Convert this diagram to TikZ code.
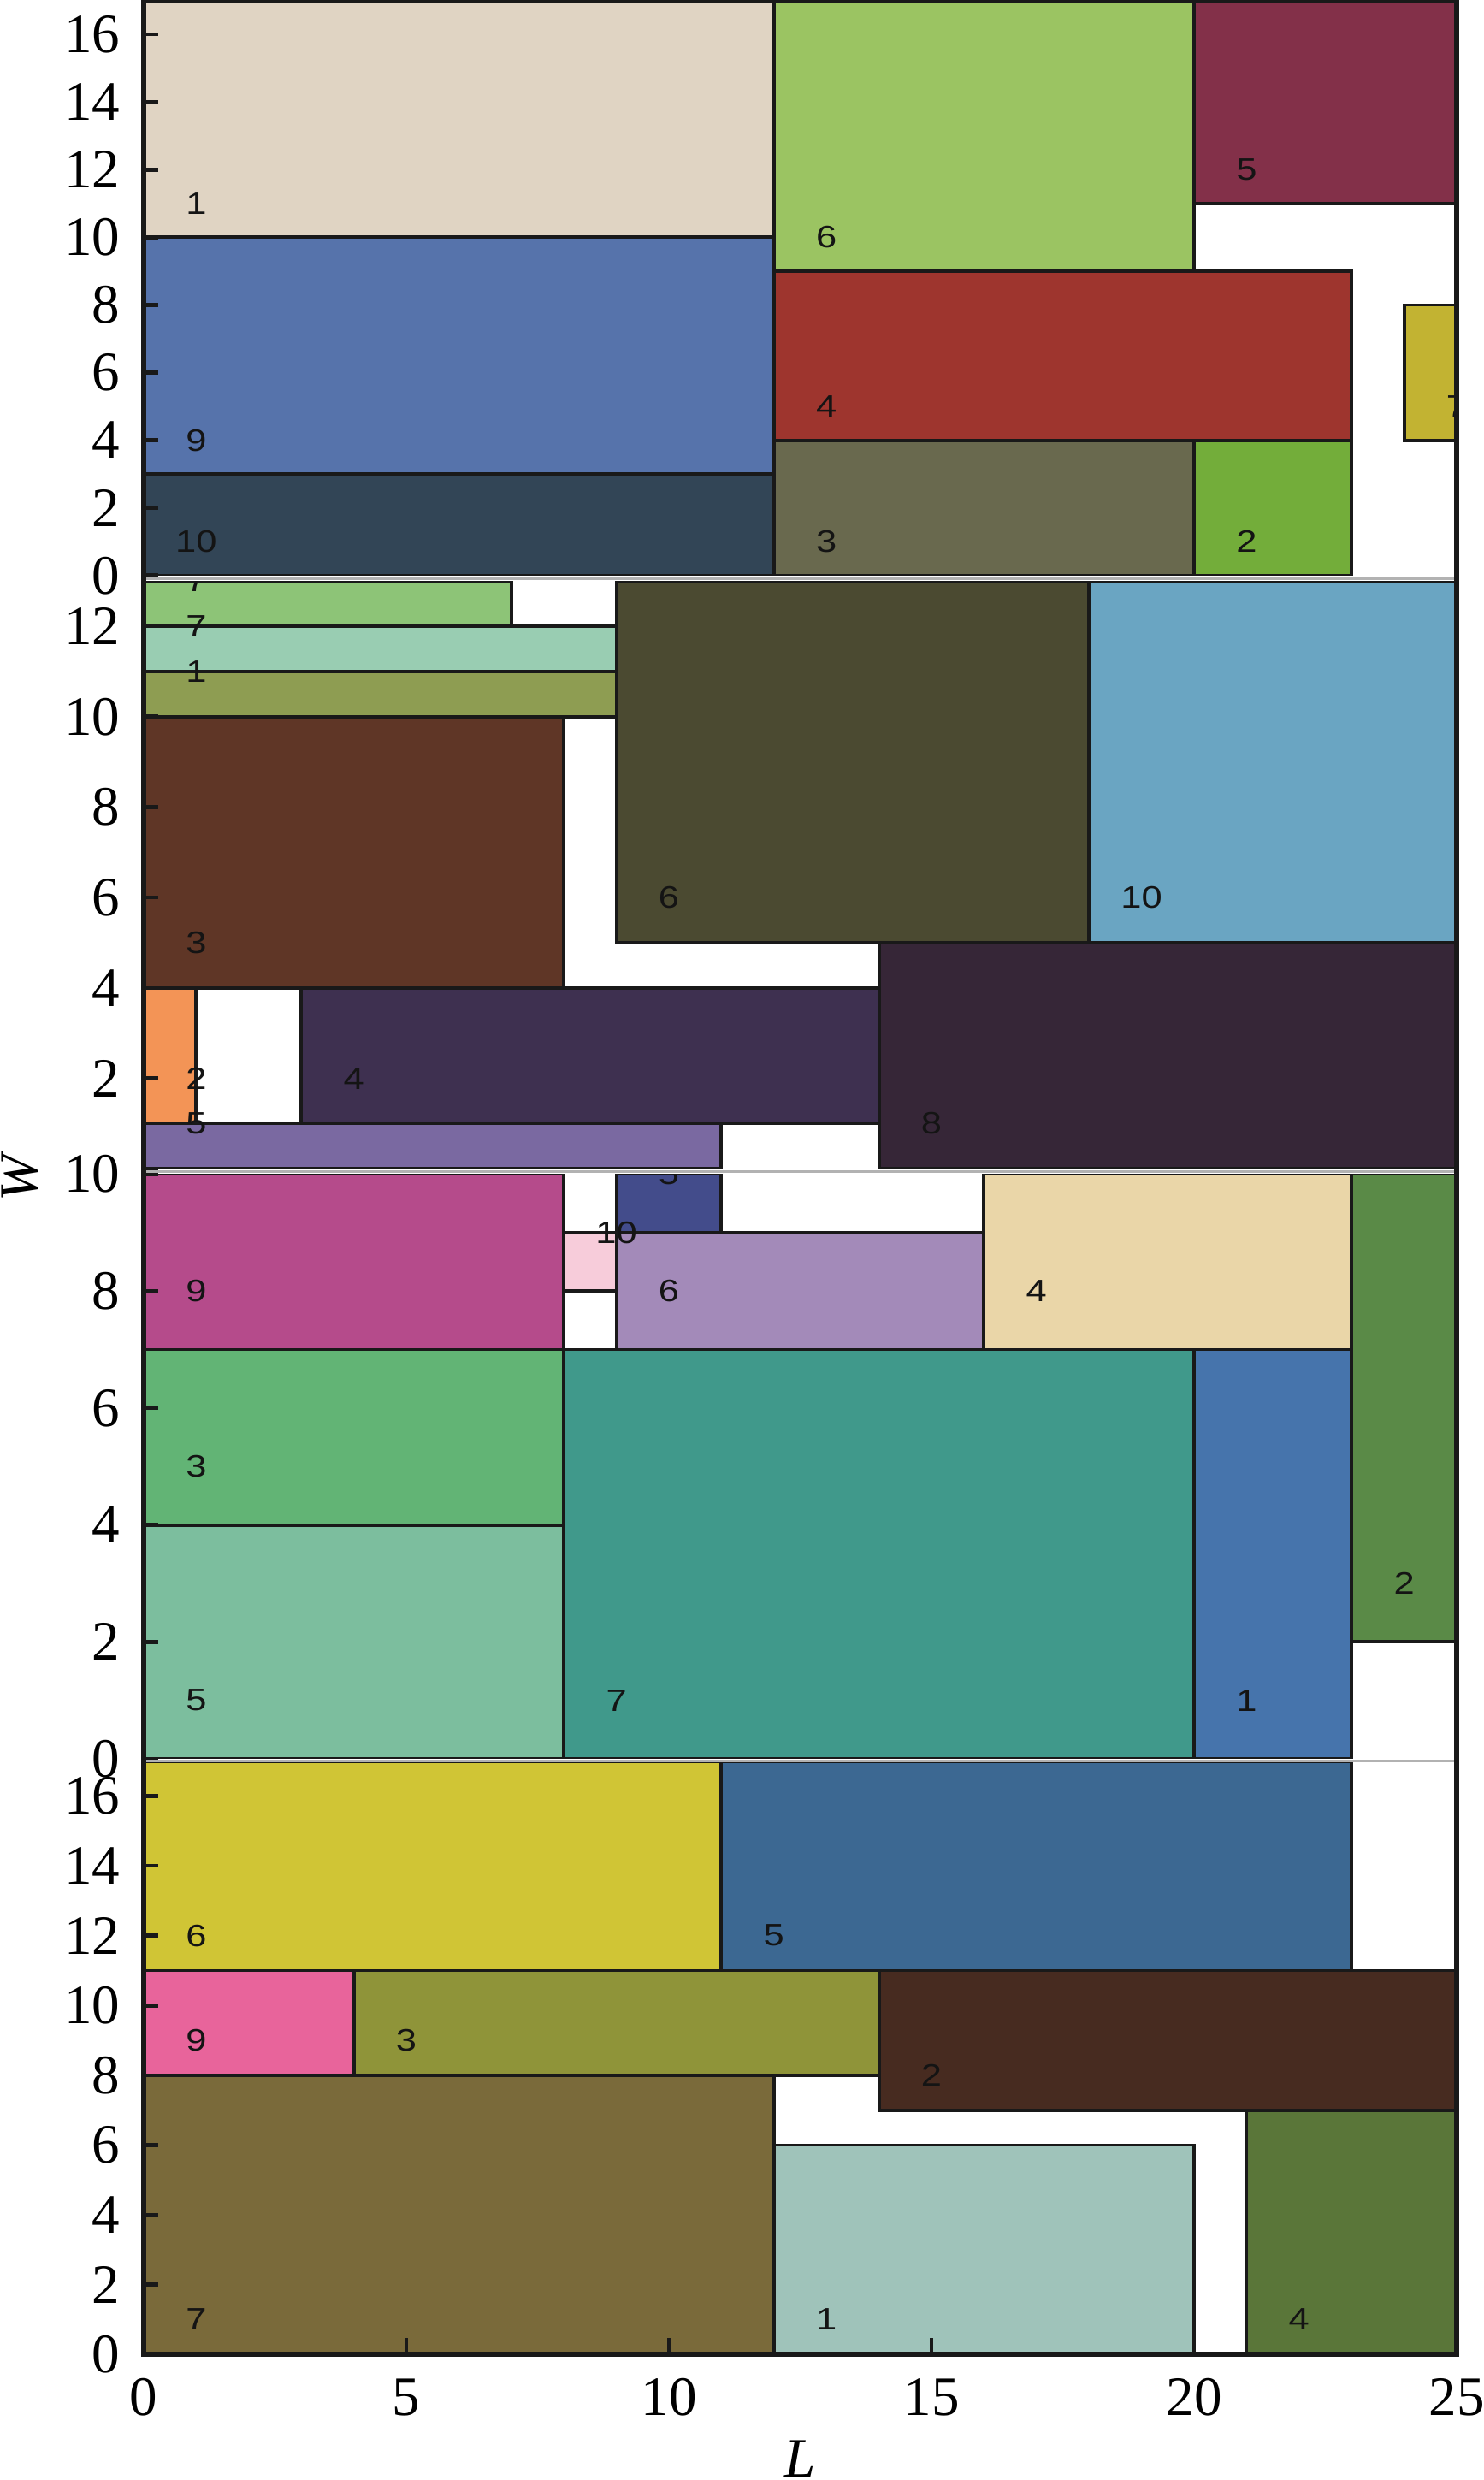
\documentclass[tikz,border=0pt]{standalone}
\usepackage{fontspec}
\setmainfont{Liberation Serif}
\newfontfamily\itemfont{Liberation Sans}
\usetikzlibrary{positioning}

% boxes first, then their numbers on top
\newcommand{\drawitems}[2]{%
  \foreach \xa/\ya/\xb/\yb/\hex/\txt in {#2}{
    \edef\setfill{\noexpand\definecolor{itemfill}{HTML}{\hex}}\setfill
    \draw[item, fill=itemfill] (\xa,\ya) rectangle (\xb,\yb);
  }
  \foreach \xa/\ya/\xb/\yb/\hex/\txt [count=\n] in {#2}
    \node[itemlabel] (#1-\n) at (\xa+1,\ya+1) {\txt};
}

\begin{document}
\begin{tikzpicture}[
  item/.style={draw=black!90, line width=1.1pt},
  itemlabel/.style={font=\itemfont\fontsize{10.3}{11}\selectfont, text=black!92, inner sep=0pt, xscale=1.2},
  ticklabel/.style={font=\fontsize{18.5}{20}\selectfont, inner sep=0pt},
  axislabel/.style={font=\itshape\fontsize{18.5}{20}\selectfont, inner sep=0pt},
  tick/.style={line width=1.3pt, black!90},
  seam/.style={line width=1.1pt, black!30},
  frame/.style={line width=1.7pt, black!90}
]
\useasboundingbox (0,0) rectangle (17.34,28.99);

% top pattern, W = 17
\begin{scope}[shift={(1.68cm,22.262cm)}, x=0.614cm, y=0.3954cm]
  \begin{scope}
    \clip (0,0) rectangle (25,17);
    \drawitems{pa}{0/10/12/17/E0D4C3/1, 0/3/12/10/5673AB/9, 0/0/12/3/324556/10,
      12/9/20/17/9BC462/6, 20/11/25/17/833049/5, 12/4/23/9/9E352E/4,
      12/0/20/4/69694E/3, 20/0/23/4/73AD3A/2, 24/4/26/8/C2B332/7}
  \end{scope}
  \foreach \t in {0,2,...,16}{
    \draw[tick] (0,\t) -- ++(0.17cm,0);
    \node[ticklabel, anchor=east, xshift=-0.27cm] (pa-y\t) at (0,\t) {\t};
  }
\end{scope}

% second pattern, W = 13
\begin{scope}[shift={(1.68cm,15.327cm)}, x=0.614cm, y=0.5285cm]
  \begin{scope}
    \clip (0,0) rectangle (25,13);
    \drawitems{pb}{0/12/7/13/8DC477/7, 0/11/9/12/99CDB2/7, 0/10/9/11/8E9D52/1,
      0/4/8/10/5F3626/3, 9/5/18/13/4B4A31/6, 18/5/25/13/6AA5C2/10,
      0/1/1/4/F39456/2, 3/1/14/4/3E3050/4, 0/0/11/1/7A69A1/5,
      14/0/25/5/362637/8}
  \end{scope}
  \foreach \t in {0,2,...,12}
    \draw[tick] (0,\t) -- ++(0.17cm,0);
  \foreach \t in {2,4,...,12}
    \node[ticklabel, anchor=east, xshift=-0.27cm] (pb-y\t) at (0,\t) {\t};
\end{scope}

% third pattern, W = 10
\begin{scope}[shift={(1.68cm,8.43cm)}, x=0.614cm, y=0.6835cm]
  \begin{scope}
    \clip (0,0) rectangle (25,10);
    \drawitems{pc}{0/7/8/10/B54B8B/9, 9/9/11/10/434C8B/5, 8/8/9/9/F7CCDA/10,
      9/7/16/9/A38AB9/6, 16/7/23/10/EAD6A8/4, 23/2/25/10/5A8A47/2,
      0/4/8/7/62B475/3, 0/0/8/4/7CBE9E/5, 8/0/20/7/40998B/7,
      20/0/23/7/4674AC/1}
  \end{scope}
  \foreach \t in {0,2,...,10}{
    \draw[tick] (0,\t) -- ++(0.17cm,0);
    \node[ticklabel, anchor=east, xshift=-0.27cm] (pc-y\t) at (0,\t) {\t};
  }
\end{scope}

% bottom pattern, W = 17
\begin{scope}[shift={(1.68cm,1.467cm)}, x=0.614cm, y=0.408cm]
  \begin{scope}
    \clip (0,0) rectangle (25,17);
    \drawitems{pd}{0/11/11/17/D0C535/6, 11/11/23/17/3C6892/5, 0/8/4/11/E8649B/9,
      4/8/14/11/8F9439/3, 14/7/25/11/472B20/2, 0/0/12/8/7A6A3A/7,
      12/0/20/6/9FC3BA/1, 21/0/25/7/5A7639/4}
  \end{scope}
  \foreach \t in {0,2,...,16}{
    \draw[tick] (0,\t) -- ++(0.17cm,0);
    \node[ticklabel, anchor=east, xshift=-0.27cm] (pd-y\t) at (0,\t) {\t};
  }
  \foreach \t in {0,5,...,25}{
    \draw[tick] (\t,0) -- ++(0,0.19cm);
    \node[ticklabel, anchor=north, yshift=-0.275cm] (pd-x\t) at (\t,0) {\t};
  }
  \node[axislabel, anchor=base] (lenlabel) at (12.5,-3.51) {L};
\end{scope}

% joins between the patterns
\draw[seam] (1.68,22.23) -- (17.03,22.23);
\draw[seam] (1.68,15.295) -- (17.03,15.295);
\draw[seam] (1.68,8.405) -- (17.03,8.405);

\draw[frame] (1.68,1.467) rectangle (17.03,28.984);
\node[axislabel, rotate=90] (widlabel) at (0.24,15.22) {W};
\end{tikzpicture}
\end{document}
